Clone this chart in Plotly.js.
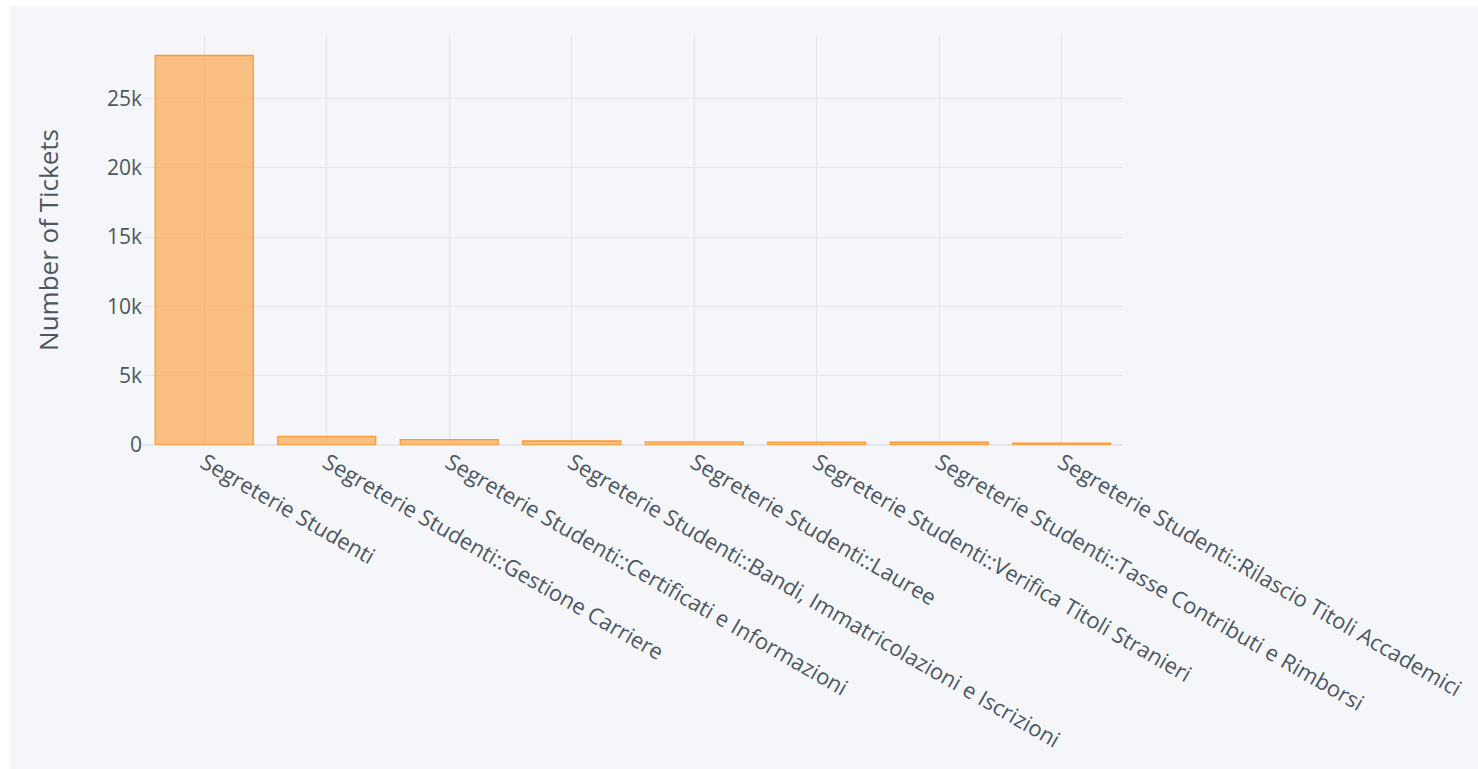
<!DOCTYPE html>
<html>
<head>
<meta charset="utf-8">
<script src="https://cdn.plot.ly/plotly-3.0.1.min.js"></script>
<style>
  html, body { margin: 0; padding: 0; background: #ffffff; }
  #chart { position: absolute; left: 10px; top: 6px; width: 1468px; height: 763px; }
</style>
</head>
<body>
<div id="chart"></div>
<script>
const categories = [
  "Segreterie Studenti",
  "Segreterie Studenti::Gestione Carriere",
  "Segreterie Studenti::Certificati e Informazioni",
  "Segreterie Studenti::Bandi, Immatricolazioni e Iscrizioni",
  "Segreterie Studenti::Lauree",
  "Segreterie Studenti::Verifica Titoli Stranieri",
  "Segreterie Studenti::Tasse Contributi e Rimborsi",
  "Segreterie Studenti::Rilascio Titoli Accademici"
];
const ticketCounts = [28100, 620, 390, 290, 220, 210, 200, 140];
const yTickVals = [0, 5000, 10000, 15000, 20000, 25000];
const yTickText = ["0", "5k", "10k", "15k", "20k", "25k"];

const trace = {
  type: "bar",
  x: categories,
  y: ticketCounts,
  marker: {
    color: "rgba(255,153,51,0.6)",
    line: { color: "rgba(255,153,51,1.0)", width: 1.3 }
  },
  hoverinfo: "x+y"
};

const layout = {
  width: 1468,
  height: 763,
  paper_bgcolor: "#F5F6F9",
  plot_bgcolor: "#F5F6F9",
  margin: { l: 133, r: 355, t: 28.5, b: 323.5, pad: 0 },
  font: { family: "Open Sans, sans-serif", color: "#4D5663", size: 22 },
  bargap: 0.2,
  showlegend: false,
  xaxis: {
    type: "category",
    tickangle: 30,
    tickfont: { color: "#4D5663", size: 22 },
    showgrid: true,
    gridcolor: "#E1E5ED",
    zeroline: false,
    showline: false,
    automargin: false
  },
  yaxis: {
    range: [0, 29580],
    tickvals: yTickVals,
    ticktext: yTickText,
    tickfont: { color: "#4D5663", size: 21 },
    title: { text: "Number of Tickets", font: { color: "#4D5663", size: 26 }, standoff: 40 },
    showgrid: true,
    gridcolor: "#E1E5ED",
    zeroline: true,
    zerolinecolor: "#E1E5ED",
    zerolinewidth: 2,
    showline: false,
    automargin: false
  }
};

Plotly.newPlot("chart", [trace], layout, { displayModeBar: false });
</script>
</body>
</html>
